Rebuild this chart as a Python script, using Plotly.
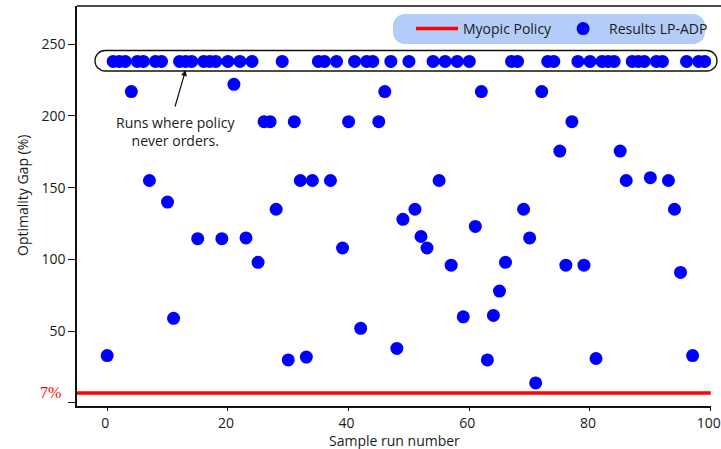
import plotly.graph_objects as go

# ---- data -------------------------------------------------------------
run_number = list(range(100))
optimality_gap = [
    33, 238, 238, 238, 217, 238, 238, 155, 238, 238,
    140, 59, 238, 238, 238, 114.5, 238, 238, 238, 114.5,
    238, 222, 238, 115, 238, 98, 196, 196, 135, 238,
    30, 196, 155, 32, 155, 238, 238, 155, 238, 108,
    196, 238, 52, 238, 238, 196, 217, 238, 38, 128,
    238, 135, 116, 108, 238, 155, 238, 96, 238, 60,
    238, 123, 217, 30, 61, 78, 98, 238, 238, 135,
    115, 14, 217, 238, 238, 175.5, 96, 196, 238, 96,
    238, 31, 238, 238, 238, 175.5, 155, 238, 238, 238,
    157, 238, 238, 155, 135, 91, 238, 33, 238, 238,
]
myopic_gap = 7
x_range = [-5, 100.05]
y_range = [-2.1, 276.6]
y_tickvals = [0, 50, 100, 150, 200, 250]
y_ticktext = ["", "50", "100", "150", "200", "250"]
x_tickvals = [0, 20, 40, 60, 80, 100]

# ---- page geometry (pixels) ------------------------------------------
W, H = 721, 449
ML, MR, MT, MB = 77, 10, 6, 43
PW, PH = W - ML - MR, H - MT - MB


def px_x(p):
    return (p - ML) / PW


def px_y(p):
    return (H - MB - p) / PH


def rounded_box(x0, y0, x1, y1, r):
    """Rounded rectangle path given in pixels, returned in paper units."""
    k = 0.5523 * r
    pts = [
        ("M", [(x0 + r, y0)]),
        ("L", [(x1 - r, y0)]),
        ("C", [(x1 - r + k, y0), (x1, y0 + r - k), (x1, y0 + r)]),
        ("L", [(x1, y1 - r)]),
        ("C", [(x1, y1 - r + k), (x1 - r + k, y1), (x1 - r, y1)]),
        ("L", [(x0 + r, y1)]),
        ("C", [(x0 + r - k, y1), (x0, y1 - r + k), (x0, y1 - r)]),
        ("L", [(x0, y0 + r)]),
        ("C", [(x0, y0 + r - k), (x0 + r - k, y0), (x0 + r, y0)]),
    ]
    out = []
    for cmd, coords in pts:
        out.append(cmd + " ".join(f"{px_x(a):.5f},{px_y(b):.5f}" for a, b in coords))
    return " ".join(out) + " Z"


fig = go.Figure()

fig.add_trace(go.Scatter(
    x=[x_range[0], 100], y=[myopic_gap, myopic_gap],
    mode="lines", name="Myopic Policy",
    line=dict(color="#ff0000", width=3.5),
))
fig.add_trace(go.Scatter(
    x=run_number, y=optimality_gap,
    mode="markers", name="Results LP-ADP",
    marker=dict(color="#0000ff", size=13, line=dict(width=0)),
))

shapes = [
    # legend background
    dict(type="path", xref="paper", yref="paper", layer="below",
         path=rounded_box(393, 14, 705, 44, 12),
         fillcolor="#b3cdf8", line=dict(width=0)),
    # outline around the runs that never order
    dict(type="path", xref="paper", yref="paper", layer="below",
         path=rounded_box(95, 50.5, 717, 71, 10),
         fillcolor="rgba(0,0,0,0)", line=dict(color="#111111", width=1.3)),
    # top frame line
    dict(type="line", xref="paper", yref="paper", layer="above",
         x0=0, x1=px_x(721), y0=1, y1=1,
         line=dict(color="#111111", width=1.5)),
]

annotations = [
    dict(x=13.0, y=232, xref="x", yref="y", text="", showarrow=True,
         ax=-11, ay=38, arrowhead=2, arrowsize=1, arrowwidth=1.2,
         arrowcolor="#111111"),
    dict(x=11.4, y=189, xref="x", yref="y",
         text="Runs where policy<br>never orders.", showarrow=False,
         font=dict(size=14, color="#1a1a1a"), align="center"),
    dict(x=px_x(63), y=myopic_gap, xref="paper", yref="y", text="7%",
         showarrow=False, xanchor="right", yanchor="middle",
         font=dict(family="Liberation Serif", size=16, color="#ff0000")),
    dict(x=px_x(22), y=px_y(196), xref="paper", yref="paper",
         text="Optimality Gap (%)", textangle=-90, showarrow=False,
         xanchor="center", yanchor="middle",
         font=dict(size=14, color="#1a1a1a")),
    dict(x=0.5, y=px_y(441), xref="paper", yref="paper",
         text="Sample run number", showarrow=False,
         xanchor="center", yanchor="middle",
         font=dict(size=14, color="#1a1a1a")),
]

fig.update_layout(
    width=W, height=H,
    margin=dict(l=ML, r=MR, t=MT, b=MB),
    paper_bgcolor="white", plot_bgcolor="white",
    font=dict(family="Open Sans", size=14, color="#1a1a1a"),
    shapes=shapes, annotations=annotations,
    showlegend=True,
    legend=dict(orientation="h", x=px_x(411), y=px_y(29),
                xanchor="left", yanchor="middle",
                bgcolor="rgba(0,0,0,0)", font=dict(size=14),
                itemwidth=42),
    xaxis=dict(range=x_range, tickvals=x_tickvals, showgrid=False,
               zeroline=False, showline=True, linecolor="#111111",
               linewidth=1.5, ticks="outside", ticklen=3,
               tickcolor="#111111", tickwidth=1.3,
               ticklabelshift=-2,
               ticklabeloverflow="allow", automargin=False),
    yaxis=dict(range=y_range, tickvals=y_tickvals, ticktext=y_ticktext,
               showgrid=False, zeroline=False, showline=True,
               linecolor="#111111", linewidth=1.5, ticks="outside",
               ticklen=7, tickcolor="#111111", tickwidth=1.3,
               automargin=False),
)

fig.write_html("out.html")
